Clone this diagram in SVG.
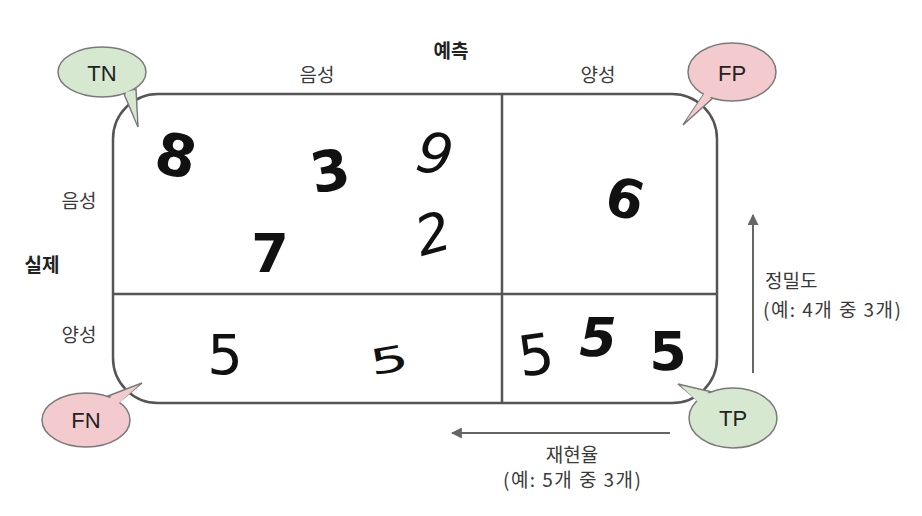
<svg xmlns="http://www.w3.org/2000/svg" width="922" height="516" viewBox="0 0 922 516">
<style>
.lbl{font-family:"Noto Sans CJK KR","Noto Sans",sans-serif;font-size:19px;fill:#3a3a3a;text-anchor:middle;dominant-baseline:central}
.bold{font-weight:bold;fill:#222}
.bub{font-family:"Liberation Sans",Arial,sans-serif;font-size:22px;fill:#222;text-anchor:middle;dominant-baseline:central}
.dig{font-family:"DejaVu Sans",sans-serif;font-weight:bold;fill:#111;text-anchor:middle;dominant-baseline:central}
.thin{font-weight:normal}
.box{fill:none;stroke:#555;stroke-width:2.5}
.grn{fill:#d6e8cf}
.pnk{fill:#f3cacd}
.edge{stroke:#7a7a7a;stroke-width:1.5}
.arr{stroke:#666;stroke-width:2;fill:none}
</style>
<defs>
<marker id="ah" viewBox="0 0 10 10" refX="9" refY="5" markerWidth="11" markerHeight="11" markerUnits="userSpaceOnUse" orient="auto">
<path d="M0,0 L10,5 L0,10 z" fill="#666"/>
</marker>
</defs>
<rect width="922" height="516" fill="#fff"/>

<g id="matrix">
<rect class="box" x="113" y="94" width="604" height="309" rx="45" ry="45"/>
<line class="box" x1="502" y1="94" x2="502" y2="403"/>
<line class="box" x1="113" y1="294" x2="717" y2="294"/>
</g>

<g id="labels">
<text class="lbl bold" x="451" y="49">예측</text>
<text class="lbl" x="317" y="73">음성</text>
<text class="lbl" x="598" y="73">양성</text>
<text class="lbl" x="79" y="199">음성</text>
<text class="lbl bold" x="42" y="263">실제</text>
<text class="lbl" x="79" y="333">양성</text>
</g>

<g id="digits">
<text class="dig" x="176" y="156" font-size="58" transform="rotate(12 176 156)">8</text>
<text class="dig" x="330" y="171" font-size="56" transform="rotate(-10 330 171)">3</text>
<text class="dig thin" x="435" y="154" font-size="56" font-style="italic" transform="rotate(10 435 154)">9</text>
<text class="dig" x="270" y="253" font-size="54">7</text>
<text class="dig thin" x="433" y="234" font-size="54" font-style="italic" transform="rotate(-15 433 234)">2</text>
<text class="dig" x="625" y="199" font-size="54" transform="rotate(15 625 199)">6</text>
<text class="dig thin" x="225" y="354" font-size="56">5</text>
<text class="dig thin" x="389" y="360" font-size="44" transform="rotate(-10 389 360) scale(1.4 0.8) translate(-111 90)">5</text>
<text class="dig thin" x="536" y="355" font-size="56" transform="rotate(-8 536 355)">5</text>
<text class="dig" x="598" y="337" font-size="54" font-style="italic">5</text>
<text class="dig" x="668" y="351" font-size="54">5</text>
</g>

<g id="TN">
<path class="grn edge" d="M124,94 L138,127 L136,89 z"/>
<ellipse class="grn edge" cx="102" cy="72" rx="44" ry="25"/>
<path class="grn" d="M125.5,92 L137,123 L134.5,90 z"/>
<text class="bub" x="102" y="73">TN</text>
</g>

<g id="FP">
<path class="pnk edge" d="M704,94 L683,125 L713,98 z"/>
<ellipse class="pnk edge" cx="732" cy="72" rx="44" ry="29"/>
<path class="pnk" d="M705,92.5 L686,121 L712,96 z"/>
<text class="bub" x="732" y="73">FP</text>
</g>

<g id="FN">
<path class="pnk edge" d="M108,396 L142,383 L119,402 z"/>
<ellipse class="pnk edge" cx="86" cy="420" rx="44" ry="27"/>
<path class="pnk" d="M109,398 L139,385 L118,404 z"/>
<text class="bub" x="86" y="420">FN</text>
</g>

<g id="TP">
<path class="grn edge" d="M697,400 L678,384 L712,392 z"/>
<ellipse class="grn edge" cx="733" cy="418" rx="44" ry="30"/>
<path class="grn" d="M698,402 L681,386 L711,394 z"/>
<text class="bub" x="733" y="418">TP</text>
</g>

<g id="connectors">
<line class="arr" x1="753" y1="373" x2="753" y2="215" marker-end="url(#ah)"/>
<line class="arr" x1="670" y1="433" x2="452" y2="433" marker-end="url(#ah)"/>
</g>

<g id="metrics">
<text class="lbl" x="765" y="279" style="text-anchor:start">정밀도</text>
<text class="lbl" x="763" y="308" style="text-anchor:start" textLength="138" lengthAdjust="spacing">(예: 4개 중 3개)</text>
<text class="lbl" x="572" y="453">재현율</text>
<text class="lbl" x="572" y="478" textLength="138" lengthAdjust="spacing">(예: 5개 중 3개)</text>
</g>
</svg>
